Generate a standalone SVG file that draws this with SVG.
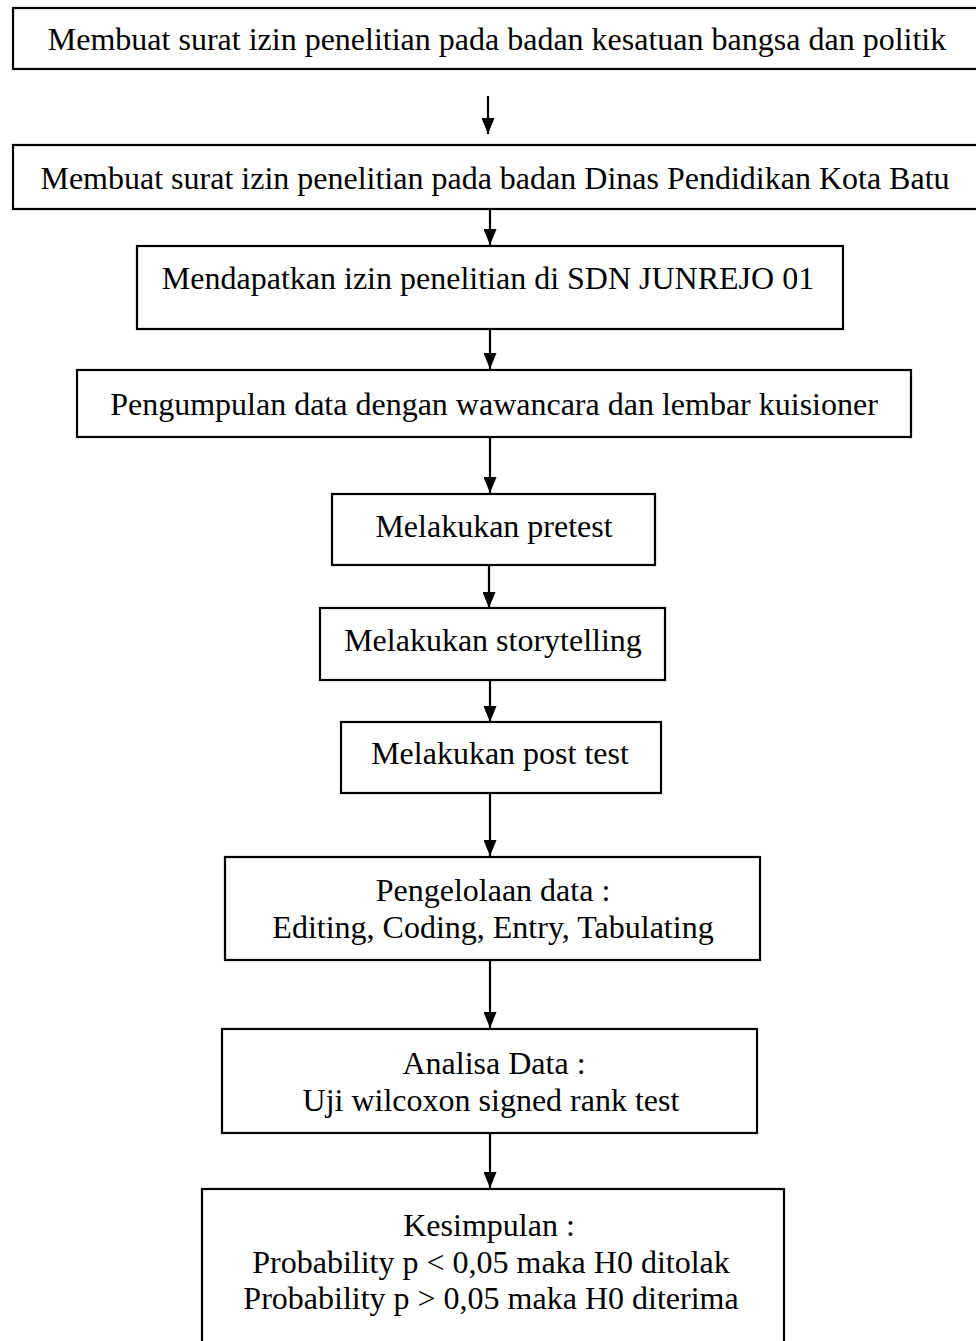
<svg xmlns="http://www.w3.org/2000/svg" width="976" height="1341" viewBox="0 0 976 1341">
<defs>
<style>
.box{fill:#fff;stroke:#000;stroke-width:2.2}
.t{font-family:"Liberation Serif","Times New Roman",serif;font-size:32px;fill:#000;text-anchor:middle}
.c{stroke:#000;stroke-width:2.2;fill:none;marker-end:url(#ah)}
</style>
<marker id="ah" viewBox="0 0 16 13" refX="16" refY="6.5" markerUnits="userSpaceOnUse" markerWidth="16" markerHeight="13" orient="auto">
<path d="M0,0 L16,6.5 L0,13 Z" fill="#000"/>
</marker>
</defs>
<rect width="976" height="1341" fill="#fff"/>
<g id="connectors">
<line class="c" x1="488" y1="96" x2="488" y2="134"/>
<line class="c" x1="490" y1="210" x2="490" y2="245"/>
<line class="c" x1="490" y1="329" x2="490" y2="369"/>
<line class="c" x1="490" y1="438" x2="490" y2="493"/>
<line class="c" x1="489" y1="565" x2="489" y2="608"/>
<line class="c" x1="490" y1="680" x2="490" y2="722"/>
<line class="c" x1="490" y1="793" x2="490" y2="856"/>
<line class="c" x1="490" y1="960" x2="490" y2="1028"/>
<line class="c" x1="490" y1="1133" x2="490" y2="1188"/>
</g>
<g id="n1"><rect class="box" x="13" y="8" width="970" height="61"/><text class="t" x="497" y="50">Membuat surat izin penelitian pada badan kesatuan bangsa dan politik</text></g>
<g id="n2"><rect class="box" x="13" y="145" width="970" height="64"/><text class="t" x="495" y="189">Membuat surat izin penelitian pada badan Dinas Pendidikan Kota Batu</text></g>
<g id="n3"><rect class="box" x="137" y="246" width="706" height="83"/><text class="t" x="488" y="289">Mendapatkan izin penelitian di SDN JUNREJO 01</text></g>
<g id="n4"><rect class="box" x="77" y="370" width="834" height="67"/><text class="t" x="494" y="415">Pengumpulan data dengan wawancara dan lembar kuisioner</text></g>
<g id="n5"><rect class="box" x="332" y="494" width="323" height="71"/><text class="t" x="494" y="537">Melakukan pretest</text></g>
<g id="n6"><rect class="box" x="320" y="608" width="345" height="72"/><text class="t" x="493" y="651">Melakukan storytelling</text></g>
<g id="n7"><rect class="box" x="341" y="722" width="320" height="71"/><text class="t" x="500" y="764">Melakukan post test</text></g>
<g id="n8"><rect class="box" x="225" y="857" width="535" height="103"/><text class="t" x="493" y="901">Pengelolaan data :</text><text class="t" x="493" y="938">Editing, Coding, Entry, Tabulating</text></g>
<g id="n9"><rect class="box" x="222" y="1029" width="535" height="104"/><text class="t" x="494" y="1074">Analisa Data :</text><text class="t" x="491" y="1111">Uji wilcoxon signed rank test</text></g>
<g id="n10"><rect class="box" x="202" y="1189" width="582" height="170"/><text class="t" x="489" y="1236">Kesimpulan :</text><text class="t" x="491" y="1273">Probability p &lt; 0,05 maka H0 ditolak</text><text class="t" x="491" y="1309">Probability p &gt; 0,05 maka H0 diterima</text></g>
</svg>
